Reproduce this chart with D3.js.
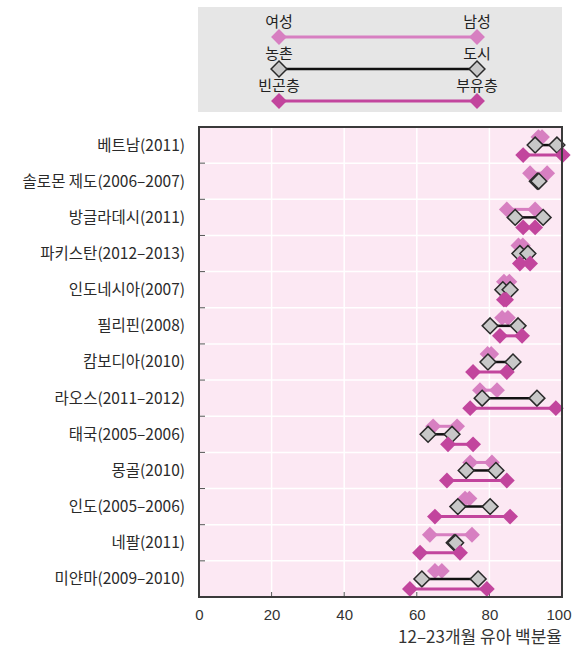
<!DOCTYPE html>
<html>
<head>
<meta charset="utf-8">
<style>
  body { margin: 0; background: #fff; }
  svg { display: block; font-family: "Noto Sans CJK KR", "Noto Sans", sans-serif; }
  .axis text { font-size: 15px; fill: #333; }
  .ylab { font-size: 15.5px; fill: #2a2a2a; }
</style>
</head>
<body>
<script src="https://cdn.jsdelivr.net/npm/d3@7"></script>
<script>
// countries, top to bottom
var countries = ["베트남(2011)", "솔로몬 제도(2006–2007)", "방글라데시(2011)", "파키스탄(2012–2013)",
  "인도네시아(2007)", "필리핀(2008)", "캄보디아(2010)", "라오스(2011–2012)", "태국(2005–2006)",
  "몽골(2010)", "인도(2005–2006)", "네팔(2011)", "미얀마(2009–2010)"];

// percent of children 12-23 months (null = no data)
var female = [93.5, 91.2, 84.8, 88.0, 84.0, 83.5, 79.5, 77.4, 64.5, 74.7, 73.3, 63.6, 65.0];
var male   = [94.5, 95.9, 92.6, 89.2, 85.5, 85.1, 80.5, 82.1, 71.1, 80.7, 74.5, 75.2, 66.9];
var rural  = [92.6, 93.2, 87.1, 88.4, 83.7, 80.2, 79.6, 78.0, 63.1, 73.6, 71.3, 70.3, 61.4];
var urban  = [98.6, 93.6, 94.8, 90.6, 85.7, 87.9, 86.5, 93.1, 69.7, 81.8, 80.2, 70.7, 76.9];
var poorest = [89.3, null, 89.3, 88.4, 84.0, 82.9, 75.5, 74.7, 68.6, 68.3, 65.0, 60.9, 58.1];
var richest = [100.2, null, 92.6, 91.2, 84.6, 89.0, 84.8, 98.3, 75.5, 84.8, 85.7, 71.9, 79.3];

var xTicks = [0, 20, 40, 60, 80, 100];

var W = 577, H = 651;
var margin = {top: 127, right: 15, bottom: 54, left: 199};
var pw = W - margin.left - margin.right,
    ph = H - margin.top - margin.bottom;

var pinkLight = "#d77fc1", pinkDark = "#c2459d", grayFill = "#c8c8c8", grayStroke = "#2a2a2a";

var svg = d3.select("body").append("svg").attr("width", W).attr("height", H);

// ---- legend box
var leg = svg.append("g");
leg.append("rect").attr("x", 198).attr("y", 7).attr("width", 364).attr("height", 105).attr("fill", "#e6e6e6");
var legRows = [
  {l: "여성", r: "남성", y: 37, kind: "g"},
  {l: "농촌", r: "도시", y: 69, kind: "u"},
  {l: "빈곤층", r: "부유층", y: 101, kind: "w"}
];
var lx1 = 279, lx2 = 477;

var diamond = d3.symbol().type(d3.symbolDiamond2).size(160);

function styleFor(kind) {
  if (kind === "g") return {line: pinkLight, fill: pinkLight, stroke: "none", lw: 3};
  if (kind === "u") return {line: "#111", fill: grayFill, stroke: grayStroke, lw: 2.5};
  return {line: pinkDark, fill: pinkDark, stroke: "none", lw: 3};
}

legRows.forEach(function(r) {
  var s = styleFor(r.kind);
  leg.append("line").attr("x1", lx1).attr("x2", lx2).attr("y1", r.y).attr("y2", r.y)
    .attr("stroke", s.line).attr("stroke-width", s.lw);
  [lx1, lx2].forEach(function(x) {
    leg.append("path").attr("d", diamond).attr("transform", "translate(" + x + "," + r.y + ")")
      .attr("fill", s.fill).attr("stroke", s.stroke).attr("stroke-width", 1.5);
  });
  leg.append("text").attr("x", lx1).attr("y", r.y - 10).attr("text-anchor", "middle")
    .attr("font-size", 15).attr("fill", "#222").text(r.l);
  leg.append("text").attr("x", lx2).attr("y", r.y - 10).attr("text-anchor", "middle")
    .attr("font-size", 15).attr("fill", "#222").text(r.r);
});

// ---- plot
var g = svg.append("g").attr("transform", "translate(" + margin.left + "," + margin.top + ")");

var x = d3.scaleLinear().domain([0, 100]).range([0, pw]);
var y = d3.scaleBand().domain(countries).range([0, ph]);

g.append("rect").attr("width", pw).attr("height", ph).attr("fill", "#fce8f3");

// white grid
g.selectAll(".vgrid").data(xTicks.slice(1, -1)).enter().append("line")
  .attr("x1", function(d) { return x(d); }).attr("x2", function(d) { return x(d); })
  .attr("y1", 0).attr("y2", ph).attr("stroke", "#fff").attr("stroke-width", 1.5);
g.selectAll(".hgrid").data(countries.slice(1)).enter().append("line")
  .attr("x1", 0).attr("x2", pw)
  .attr("y1", function(d) { return y(d); }).attr("y2", function(d) { return y(d); })
  .attr("stroke", "#fff").attr("stroke-width", 1.5);

// inward ticks
g.selectAll(".ytick").data(countries.slice(1)).enter().append("line")
  .attr("x1", 0).attr("x2", 6)
  .attr("y1", function(d) { return y(d); }).attr("y2", function(d) { return y(d); })
  .attr("stroke", "#555").attr("stroke-width", 1);
g.selectAll(".xtick").data(xTicks.slice(1, -1)).enter().append("line")
  .attr("x1", function(d) { return x(d); }).attr("x2", function(d) { return x(d); })
  .attr("y1", ph).attr("y2", ph - 5).attr("stroke", "#555").attr("stroke-width", 1);

// country labels
g.selectAll(".ylab").data(countries).enter().append("text")
  .attr("class", "ylab")
  .attr("x", -14)
  .attr("y", function(d) { return y(d) + y.bandwidth() / 2; })
  .attr("dy", "0.35em")
  .attr("text-anchor", "end")
  .text(function(d) { return d; });

// x axis
var xAxis = g.append("g").attr("class", "axis")
  .attr("transform", "translate(0," + ph + ")")
  .call(d3.axisBottom(x).tickValues(xTicks).tickSize(0).tickPadding(12));
xAxis.select(".domain").remove();
xAxis.selectAll(".tick:last-of-type text").attr("text-anchor", "end").attr("dx", "0.6em");

svg.append("text").attr("x", W - 15).attr("y", 643).attr("text-anchor", "end")
  .attr("font-size", 17).attr("fill", "#333").text("12–23개월 유아 백분율");

// dumbbell pairs
var groups = [
  {a: female, b: male, kind: "g", dy: -8},
  {a: rural, b: urban, kind: "u", dy: 0},
  {a: poorest, b: richest, kind: "w", dy: 10}
];

groups.forEach(function(grp) {
  var s = styleFor(grp.kind);
  var rows = countries.map(function(c, i) { return {c: c, a: grp.a[i], b: grp.b[i]}; })
    .filter(function(d) { return d.a != null && d.b != null; });
  var layer = g.append("g");
  layer.selectAll("line").data(rows).enter().append("line")
    .attr("x1", function(d) { return x(d.a); }).attr("x2", function(d) { return x(d.b); })
    .attr("y1", function(d) { return y(d.c) + y.bandwidth() / 2 + grp.dy; })
    .attr("y2", function(d) { return y(d.c) + y.bandwidth() / 2 + grp.dy; })
    .attr("stroke", s.line).attr("stroke-width", s.lw);
  var pts = [];
  rows.forEach(function(d) { pts.push({c: d.c, v: d.a}); pts.push({c: d.c, v: d.b}); });
  layer.selectAll("path").data(pts).enter().append("path")
    .attr("d", diamond)
    .attr("transform", function(d) {
      return "translate(" + x(d.v) + "," + (y(d.c) + y.bandwidth() / 2 + grp.dy) + ")";
    })
    .attr("fill", s.fill).attr("stroke", s.stroke).attr("stroke-width", 1.5);
});

// frame drawn on top
g.append("rect").attr("width", pw).attr("height", ph).attr("fill", "none")
  .attr("stroke", "#3a3a3a").attr("stroke-width", 2);
</script>
</body>
</html>
